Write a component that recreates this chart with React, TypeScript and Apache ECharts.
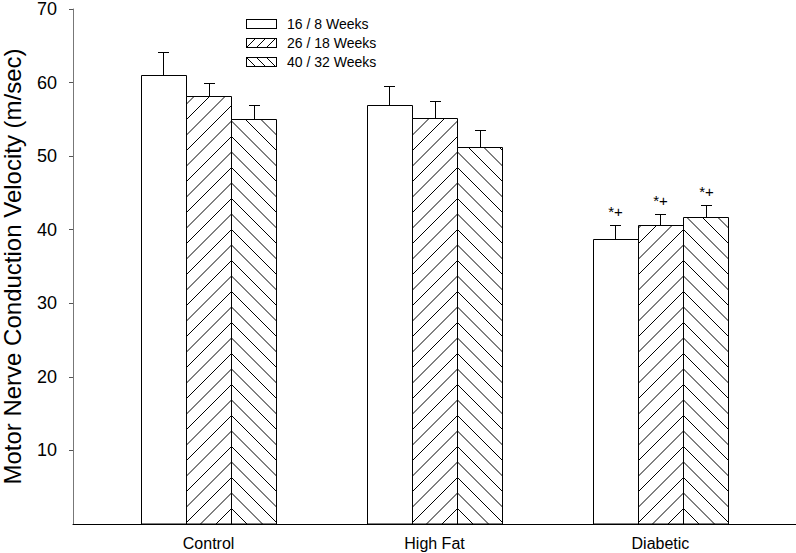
import React, { useEffect, useRef } from "react";
import * as echarts from "echarts";

const categories = ["Control", "High Fat", "Diabetic"];
const seriesNames = ["16 / 8 Weeks", "26 / 18 Weeks", "40 / 32 Weeks"];
const values16 = [61.0, 57.0, 38.8];
const values26 = [58.2, 55.2, 40.7];
const values40 = [55.1, 51.3, 41.7];
const errors16 = [3.2, 2.6, 1.9];
const errors26 = [1.8, 2.3, 1.5];
const errors40 = [1.8, 2.3, 1.7];
const marks16 = ["", "", "*+"];
const marks26 = ["", "", "*+"];
const marks40 = ["", "", "*+"];
const yTicks = [10, 20, 30, 40, 50, 60, 70];

const FONT = "'Liberation Sans', Arial, Helvetica, sans-serif";

function svgIcon(kind: number): string {
  let lines = "";
  if (kind === 1) {
    for (let x = -10; x < 40; x += 10) lines += `<line x1='${x}' y1='10' x2='${x + 10}' y2='0' stroke='black' stroke-width='1'/>`;
  } else if (kind === 2) {
    for (let x = -10; x < 40; x += 10) lines += `<line x1='${x}' y1='0' x2='${x + 10}' y2='10' stroke='black' stroke-width='1'/>`;
  }
  const svg = `<svg xmlns='http://www.w3.org/2000/svg' width='31' height='10' viewBox='0 0 31 10'><defs><clipPath id='c'><rect x='0' y='0' width='31' height='10'/></clipPath></defs><rect x='0.5' y='0.5' width='30' height='9' fill='white'/><g clip-path='url(#c)'>${lines}</g><rect x='0.5' y='0.5' width='30' height='9' fill='none' stroke='black' stroke-width='1'/></svg>`;
  return "image://data:image/svg+xml;charset=utf-8," + encodeURIComponent(svg);
}

function makeRenderItem(s: number, marks: string[]) {
  return function (params: any, api: any) {
    const cat = api.value(0);
    const val = api.value(1);
    const err = api.value(2);
    const base = api.coord([cat, 0]);
    const top = api.coord([cat, val]);
    const errTop = api.coord([cat, val + err]);
    const unitW = api.size([1, 0])[0];
    const barW = unitW * 0.2;
    const cx = base[0] + (s - 1) * barW;
    const x0 = Math.round(cx - barW / 2) + 0.5;
    const x1 = Math.round(cx + barW / 2) + 0.5;
    const y0 = Math.round(top[1]) + 0.5;
    const y1 = base[1];
    const ccx = Math.round(cx) + 0.5;
    const ey = Math.round(errTop[1]) + 0.5;
    const step = 15.5;
    const children: any[] = [];
    children.push({
      type: "rect",
      shape: { x: x0, y: y0, width: x1 - x0, height: y1 - y0 },
      style: { fill: "#ffffff", stroke: "none" },
    });
    if (s === 1) {
      for (let c = x1 + y1; c > x0 + y0; c -= step) {
        const xa = Math.max(x0, c - y1);
        const xb = Math.min(x1, c - y0);
        if (xb > xa) {
          children.push({
            type: "line",
            shape: { x1: xa, y1: c - xa, x2: xb, y2: c - xb },
            style: { stroke: "#000", lineWidth: 1 },
          });
        }
      }
    } else if (s === 2) {
      for (let c = y1 - x0; c > y0 - x1; c -= step) {
        const xa = Math.max(x0, y0 - c);
        const xb = Math.min(x1, y1 - c);
        if (xb > xa) {
          children.push({
            type: "line",
            shape: { x1: xa, y1: xa + c, x2: xb, y2: xb + c },
            style: { stroke: "#000", lineWidth: 1 },
          });
        }
      }
    }
    children.push({
      type: "rect",
      shape: { x: x0, y: y0, width: x1 - x0, height: y1 - y0 },
      style: { fill: "none", stroke: "#000", lineWidth: 1 },
    });
    children.push({
      type: "line",
      shape: { x1: ccx, y1: y0, x2: ccx, y2: ey },
      style: { stroke: "#000", lineWidth: 1 },
    });
    children.push({
      type: "line",
      shape: { x1: ccx - 5.5, y1: ey, x2: ccx + 5.5, y2: ey },
      style: { stroke: "#000", lineWidth: 1 },
    });
    const m = marks[params.dataIndex];
    if (m) {
      children.push({
        type: "text",
        style: {
          text: m,
          x: ccx,
          y: ey - 14,
          align: "center",
          verticalAlign: "middle",
          fontSize: 15,
          fontFamily: FONT,
          fill: "#000",
        },
      });
    }
    return { type: "group", children };
  };
}

export default function App() {
  const ref = useRef<HTMLDivElement>(null);
  useEffect(() => {
    if (!ref.current) return;
    const chart = echarts.init(ref.current, null, { renderer: "svg" });
    const allVals = [values16, values26, values40];
    const allErr = [errors16, errors26, errors40];
    const allMarks = [marks16, marks26, marks40];
    const series = seriesNames.map((name, s) => ({
      type: "custom",
      name,
      renderItem: makeRenderItem(s, allMarks[s]),
      data: categories.map((_, i) => [i, allVals[s][i], allErr[s][i]]),
      encode: { x: 0, y: [1, 2] },
      clip: false,
    }));
    const legendText = {
      fontSize: 14,
      color: "#000",
      fontFamily: FONT,
      rich: { t: { fontSize: 14, color: "#000", fontFamily: FONT, padding: [0, 0, 0, 5] } },
    };
    chart.setOption({
      animation: false,
      backgroundColor: "#ffffff",
      textStyle: { fontFamily: FONT },
      grid: { left: 73, right: 0, top: 9, bottom: 29, containLabel: false, outerBoundsMode: "none" },
      legend: {
        orient: "vertical",
        left: 246,
        top: 17,
        padding: 0,
        itemGap: 5,
        itemWidth: 31,
        itemHeight: 10,
        selectedMode: false,
        formatter: (name: string) => `{t|${name}}`,
        textStyle: legendText,
        data: seriesNames.map((n, i) => ({ name: n, icon: svgIcon(i) })),
      },
      xAxis: {
        type: "value",
        min: -0.6,
        max: 2.6,
        axisLine: { show: true, onZero: false, lineStyle: { color: "#000", width: 1 } },
        axisTick: { show: false },
        splitLine: { show: false },
        axisLabel: {
          customValues: [0, 1, 2],
          formatter: (v: number) => categories[Math.round(v)] ?? "",
          fontSize: 16,
          color: "#000",
          margin: 11,
          fontFamily: FONT,
        },
      },
      yAxis: {
        type: "value",
        min: 0,
        max: 70,
        interval: 10,
        name: "Motor Nerve Conduction Velocity (m/sec)",
        nameLocation: "middle",
        nameGap: 49,
        nameTextStyle: { fontSize: 24, color: "#000", fontFamily: FONT },
        axisLine: { show: true, onZero: false, lineStyle: { color: "#777", width: 1 } },
        axisTick: { show: true, length: 4, lineStyle: { color: "#555" }, customValues: yTicks },
        splitLine: { show: false },
        axisLabel: {
          customValues: yTicks,
          fontSize: 18,
          lineHeight: 14,
          color: "#000",
          margin: 16,
          fontFamily: FONT,
        },
      },
      series,
    });
    return () => chart.dispose();
  }, []);
  return (
    <div
      ref={ref}
      style={{ position: "fixed", left: 0, top: 0, width: 796, height: 553, background: "#fff" }}
    />
  );
}
